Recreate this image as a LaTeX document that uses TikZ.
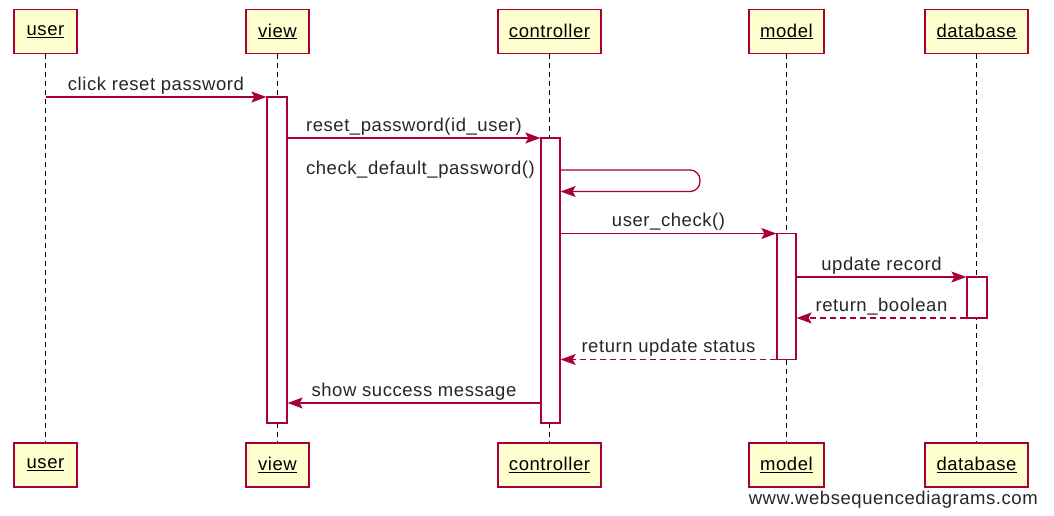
\documentclass[tikz,border=0pt]{standalone}
\usepackage{fontspec}
\setmainfont{Liberation Sans}[LetterSpace=3]
\usetikzlibrary{arrows.meta}
\definecolor{wsdred}{HTML}{A80036}
\definecolor{wsdyellow}{HTML}{FEFECE}
\tikzset{
  participant/.style={draw=wsdred, fill=wsdyellow, line width=1.3pt, minimum height=44pt, inner sep=0pt},
  lifeline/.style={black, line width=1.2pt, dash pattern=on 5pt off 4pt},
  bar/.style={draw=wsdred, fill=white, line width=1.2pt, minimum width=20pt, inner sep=0pt},
  msg/.style={wsdred, line width=1.3pt, -{Stealth[length=15pt, width=11pt, inset=3pt]}},
  ret/.style={msg, dash pattern=on 6pt off 4pt},
  lbl/.style={above, inner sep=2.5pt, text=black!85}
}
\begin{document}
\begin{tikzpicture}[x=1pt, y=-1pt, every node/.style={font=\fontsize{18.5}{22}\selectfont}]
  \useasboundingbox (0,0) rectangle (1054,516);

  % participants, top
  \node[participant, minimum width=63pt] (user) at (45.5,31.5) {\underline{user}};
  \node[participant, minimum width=63pt] (view) at (277.5,31.5) {\underline{view}};
  \node[participant, minimum width=103pt] (ctrl) at (549.5,31.5) {\underline{controller}};
  \node[participant, minimum width=75pt] (model) at (786.5,31.5) {\underline{model}};
  \node[participant, minimum width=103pt] (db) at (976.5,31.5) {\underline{database}};

  % participants, bottom
  \node[participant, minimum width=63pt] (userB) at (45.5,465) {\underline{user}};
  \node[participant, minimum width=63pt] (viewB) at (277.5,465) {\underline{view}};
  \node[participant, minimum width=103pt] (ctrlB) at (549.5,465) {\underline{controller}};
  \node[participant, minimum width=75pt] (modelB) at (786.5,465) {\underline{model}};
  \node[participant, minimum width=103pt] (dbB) at (976.5,465) {\underline{database}};

  % lifelines
  \draw[lifeline] (user) -- (userB);
  \draw[lifeline] (view) -- (viewB);
  \draw[lifeline] (ctrl) -- (ctrlB);
  \draw[lifeline] (model) -- (modelB);
  \draw[lifeline] (db) -- (dbB);

  % activations
  \node[bar, minimum height=326pt] (vbar) at (277,260) {};
  \node[bar, minimum height=285pt, minimum width=19pt] (cbar) at (550.5,280.5) {};
  \node[bar, minimum height=126pt, minimum width=19pt] (mbar) at (786.5,296.5) {};
  \node[bar, minimum height=41pt] (dbar) at (977,297.5) {};

  % message rows
  \coordinate (m1) at (0,97);
  \coordinate (m2) at (0,138);
  \coordinate (m3) at (0,170);
  \coordinate (m3b) at (0,191.5);
  \coordinate (m4) at (0,233.5);
  \coordinate (m5) at (0,277);
  \coordinate (m6) at (0,318);
  \coordinate (m7) at (0,359.5);
  \coordinate (m8) at (0,403);
  \coordinate (loop) at (700,0);

  % messages
  \draw[msg] (user |- m1) -- node[lbl] {click reset password} (vbar.west |- m1);
  \draw[msg] (vbar.east |- m2) -- node[lbl] {reset\_password(id\_user)} (cbar.west |- m2);
  \draw[msg, rounded corners=10pt] (cbar.east |- m3) -- (loop |- m3) -- (loop |- m3b) -- (cbar.east |- m3b);
  \node[left, inner sep=0pt, text=black!85] at (535,170) {check\_default\_password()};
  \draw[msg] (cbar.east |- m4) -- node[lbl] {user\_check()} (mbar.west |- m4);
  \draw[msg] (mbar.east |- m5) -- node[lbl] {update record} (dbar.west |- m5);
  \draw[ret] (dbar.west |- m6) -- node[lbl] {return\_boolean} (mbar.east |- m6);
  \draw[ret] (mbar.west |- m7) -- node[lbl] {return update status} (cbar.east |- m7);
  \draw[msg] (cbar.west |- m8) -- node[lbl] {show success message} (vbar.east |- m8);

  % footer
  \node[left, inner sep=0pt, text=black!85] at (1038,500) {www.websequencediagrams.com};
\end{tikzpicture}
\end{document}
